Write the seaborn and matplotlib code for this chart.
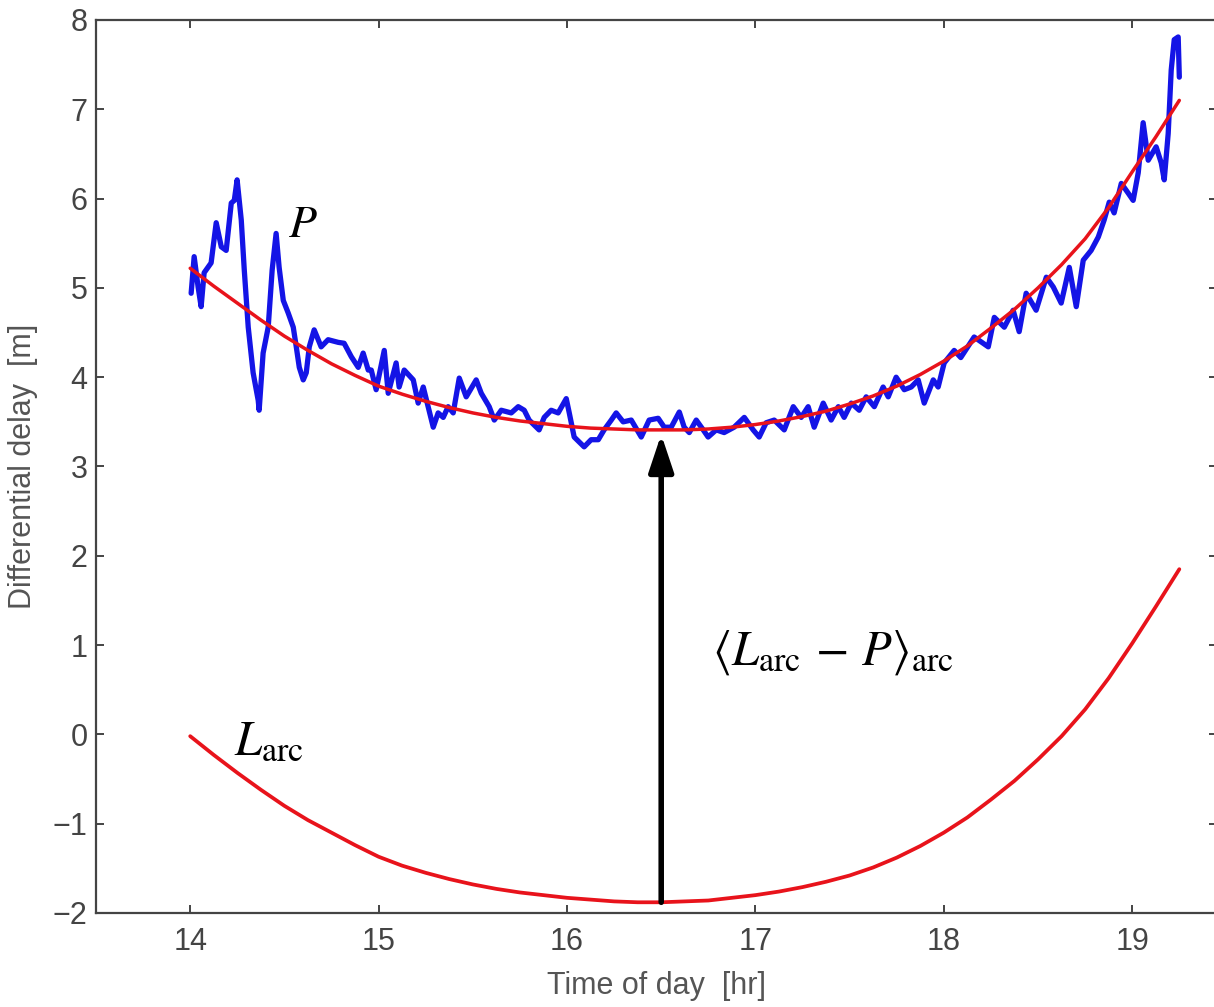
import matplotlib
matplotlib.use("Agg")
import matplotlib.pyplot as plt
import seaborn as sns
import pandas as pd

# Data
p_time = [14.005, 14.021, 14.042, 14.058, 14.074, 14.111, 14.138, 14.165, 14.191, 14.218,
          14.234, 14.249, 14.271, 14.287, 14.308, 14.334, 14.361, 14.366, 14.387, 14.414,
          14.435, 14.456, 14.472, 14.494, 14.520, 14.547, 14.563, 14.579, 14.600, 14.616,
          14.632, 14.658, 14.695, 14.732, 14.786, 14.817, 14.855, 14.892, 14.918, 14.945,
          14.961, 14.987, 15.030, 15.051, 15.093, 15.109, 15.136, 15.184, 15.210, 15.237,
          15.263, 15.290, 15.316, 15.343, 15.369, 15.396, 15.428, 15.465, 15.518, 15.545,
          15.587, 15.614, 15.651, 15.704, 15.741, 15.773, 15.799, 15.852, 15.879, 15.916,
          15.953, 15.996, 16.012, 16.038, 16.091, 16.128, 16.166, 16.197, 16.235, 16.261,
          16.298, 16.341, 16.394, 16.436, 16.484, 16.516, 16.553, 16.596, 16.622, 16.649,
          16.686, 16.723, 16.749, 16.792, 16.834, 16.887, 16.941, 16.988, 17.020, 17.057,
          17.100, 17.153, 17.201, 17.243, 17.280, 17.312, 17.360, 17.402, 17.440, 17.471,
          17.509, 17.551, 17.588, 17.631, 17.678, 17.705, 17.747, 17.790, 17.827, 17.864,
          17.896, 17.944, 17.970, 18.002, 18.055, 18.090, 18.161, 18.236, 18.268, 18.321,
          18.368, 18.400, 18.437, 18.490, 18.544, 18.581, 18.623, 18.666, 18.703, 18.740,
          18.782, 18.820, 18.851, 18.878, 18.904, 18.942, 18.979, 19.005, 19.032, 19.058,
          19.085, 19.127, 19.154, 19.170, 19.191, 19.207, 19.223, 19.244, 19.250]
p_delay = [4.94, 5.35, 5.01, 4.79, 5.17, 5.28, 5.73, 5.46, 5.42, 5.95,
           5.98, 6.21, 5.76, 5.20, 4.56, 4.05, 3.74, 3.63, 4.27, 4.56,
           5.20, 5.61, 5.23, 4.86, 4.72, 4.56, 4.34, 4.11, 3.97, 4.05,
           4.34, 4.53, 4.34, 4.42, 4.39, 4.38, 4.23, 4.11, 4.27, 4.08,
           4.08, 3.86, 4.30, 3.82, 4.16, 3.89, 4.08, 3.97, 3.71, 3.89,
           3.67, 3.44, 3.60, 3.55, 3.67, 3.60, 3.99, 3.78, 3.97, 3.82,
           3.67, 3.52, 3.63, 3.60, 3.67, 3.63, 3.52, 3.41, 3.55, 3.63,
           3.60, 3.76, 3.60, 3.33, 3.22, 3.30, 3.30, 3.41, 3.52, 3.60,
           3.50, 3.52, 3.33, 3.52, 3.54, 3.44, 3.44, 3.61, 3.44, 3.38,
           3.52, 3.41, 3.33, 3.41, 3.38, 3.44, 3.55, 3.41, 3.33, 3.49,
           3.52, 3.41, 3.67, 3.55, 3.67, 3.44, 3.71, 3.52, 3.67, 3.55,
           3.71, 3.63, 3.78, 3.67, 3.89, 3.78, 4.00, 3.86, 3.89, 3.97,
           3.71, 3.97, 3.89, 4.16, 4.30, 4.22, 4.45, 4.34, 4.67, 4.56,
           4.75, 4.51, 4.94, 4.75, 5.12, 5.01, 4.83, 5.23, 4.79, 5.31,
           5.42, 5.57, 5.76, 5.96, 5.84, 6.17, 6.06, 5.98, 6.29, 6.85,
           6.43, 6.58, 6.40, 6.21, 6.73, 7.44, 7.78, 7.81, 7.36]

fit_time = [14.0, 14.125, 14.25, 14.375, 14.5, 14.625, 14.75, 14.875, 15.0, 15.125,
            15.25, 15.375, 15.5, 15.625, 15.75, 15.875, 16.0, 16.125, 16.25, 16.375,
            16.5, 16.625, 16.75, 16.875, 17.0, 17.125, 17.25, 17.375, 17.5, 17.625,
            17.75, 17.875, 18.0, 18.125, 18.25, 18.375, 18.5, 18.625, 18.75, 18.875,
            19.0, 19.125, 19.25]
p_fit = [5.22, 5.02, 4.83, 4.64, 4.46, 4.30, 4.15, 4.02, 3.90, 3.81,
         3.73, 3.66, 3.60, 3.55, 3.51, 3.48, 3.45, 3.43, 3.42, 3.41,
         3.41, 3.41, 3.42, 3.44, 3.47, 3.51, 3.56, 3.62, 3.70, 3.79,
         3.90, 4.03, 4.18, 4.35, 4.55, 4.76, 5.00, 5.26, 5.55, 5.90,
         6.30, 6.69, 7.10]
l_arc = [-0.02, -0.23, -0.43, -0.62, -0.80, -0.96, -1.10, -1.24, -1.37, -1.47,
         -1.55, -1.62, -1.68, -1.73, -1.77, -1.80, -1.83, -1.85, -1.87, -1.88,
         -1.88, -1.87, -1.86, -1.83, -1.80, -1.76, -1.71, -1.65, -1.58, -1.49,
         -1.38, -1.25, -1.10, -0.93, -0.73, -0.52, -0.28, -0.02, 0.28, 0.63,
         1.02, 1.43, 1.85]

arrow_x = 16.5
arrow_bottom = -1.88
arrow_top = 3.36

sns.set_theme(style="ticks")
plt.rcParams["font.family"] = ["Liberation Sans", "DejaVu Sans"]
plt.rcParams["mathtext.fontset"] = "stix"

fig = plt.figure(figsize=(12.14, 10.07), dpi=100)
ax = fig.add_axes([96 / 1214, 1 - 913 / 1007, 1121 / 1214, 893 / 1007])

blue_df = pd.DataFrame({"time": p_time, "delay": p_delay})
fit_df = pd.DataFrame({"time": fit_time, "p_fit": p_fit, "l_arc": l_arc})

sns.lineplot(data=blue_df, x="time", y="delay", color="#1414e6", lw=3.8,
             sort=False, estimator=None, ax=ax)
sns.lineplot(data=fit_df, x="time", y="p_fit", color="#e8131b", lw=2.5,
             sort=False, estimator=None, ax=ax)
sns.lineplot(data=fit_df, x="time", y="l_arc", color="#e8131b", lw=2.7,
             sort=False, estimator=None, ax=ax)

ax.annotate("", xy=(arrow_x, arrow_top), xytext=(arrow_x, arrow_bottom),
            arrowprops=dict(arrowstyle="-|>,head_length=0.75,head_width=0.25",
                            lw=4, color="black", mutation_scale=30,
                            shrinkA=0, shrinkB=0))

ax.text(14.52, 5.70, r"$P$", fontsize=33, color="black", va="center")
ax.text(14.23, -0.08, r"$L_{\mathrm{arc}}$", fontsize=35, color="black", va="center")
ax.text(16.77, 0.92, r"$\langle L_{\mathrm{arc}} \,-\, P\rangle_{\mathrm{arc}}$",
        fontsize=35, color="black", va="center")

ax.set_xlim(13.5, 19.45)
ax.set_ylim(-2, 8)
ax.set_xticks([14, 15, 16, 17, 18, 19])
ax.set_yticks(range(-2, 9))
ax.set_yticklabels(["\u22122", "\u22121", "0", "1", "2", "3", "4", "5", "6", "7", "8"])

for s in ax.spines.values():
    s.set_color("#444444")
    s.set_linewidth(1.6)
ax.tick_params(direction="in", length=6, width=1.4, colors="#444444",
               labelsize=22, top=True, right=True, pad=6)
ax.tick_params(axis="x", pad=10)
ax.set_xlabel("Time of day  [hr]", fontsize=22, color="#555555", labelpad=10)
ax.set_ylabel("Differential delay  [m]", fontsize=22, color="#555555", labelpad=11)

fig.savefig("out.png", dpi=100)
